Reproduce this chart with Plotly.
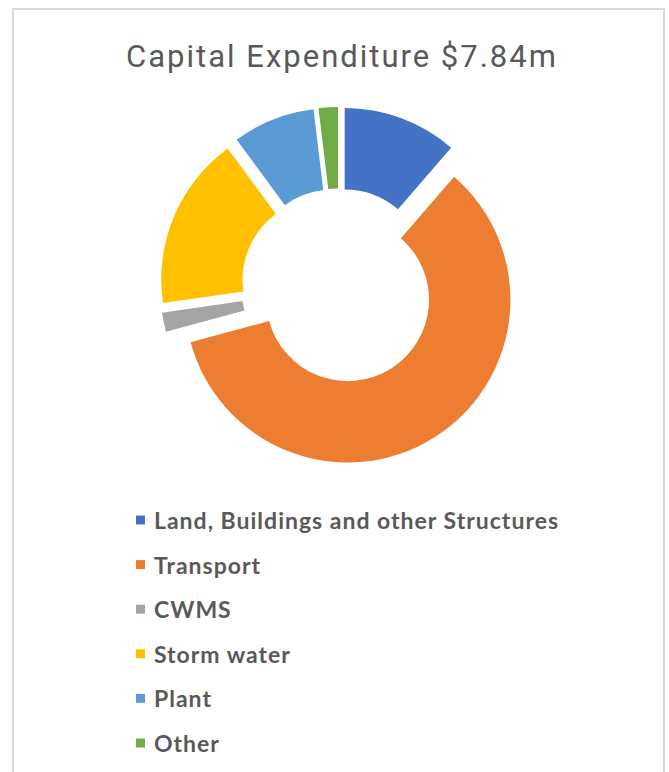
import plotly.graph_objects as go

W, H = 669, 772

title_text = "Capital Expenditure $7.84m"
categories = ["Land, Buildings and other Structures", "Transport", "CWMS",
              "Storm water", "Plant", "Other"]
values_m = [0.89, 4.66, 0.15, 1.35, 0.64, 0.15]
colors = ["#4472C4", "#ED7D31", "#A5A5A5", "#FFC000", "#5B9BD5", "#70AD47"]


def px_x(x):
    return x / W


def px_y(y):
    return 1 - y / H


fig = go.Figure()
fig.add_trace(go.Pie(
    labels=categories,
    values=values_m,
    marker=dict(colors=colors, line=dict(width=0)),
    hole=0.5,
    sort=False,
    direction="clockwise",
    rotation=0,
    pull=[0.1] * len(values_m),
    textinfo="none",
    hoverinfo="label+value",
    showlegend=False,
    domain=dict(x=[px_x(160), px_x(518)], y=[px_y(465), px_y(107)]),
))

# legend drawn from the category / colour lists
legend_top = 520
legend_step = 44.6
shapes = [dict(type="rect", xref="paper", yref="paper",
               x0=px_x(13), x1=px_x(664), y0=px_y(9), y1=-0.1,
               line=dict(color="#D9D9D9", width=2), fillcolor="rgba(0,0,0,0)")]
annotations = []
for i, (lab, col) in enumerate(zip(categories, colors)):
    yc = legend_top + i * legend_step
    shapes.append(dict(type="rect", xref="paper", yref="paper",
                       x0=px_x(136), x1=px_x(145), y0=px_y(yc - 4.5), y1=px_y(yc + 4.5),
                       line=dict(width=0), fillcolor=col))
    annotations.append(dict(text='<span style="letter-spacing:1px">' + lab + '</span>',
                            xref="paper", yref="paper",
                            x=px_x(152), y=px_y(yc), xanchor="left", yanchor="middle",
                            showarrow=False,
                            font=dict(family="Lato", size=23, color="#595959", weight="bold")))

fig.update_layout(
    width=W, height=H,
    margin=dict(l=0, r=0, t=0, b=0),
    paper_bgcolor="white",
    title=dict(text='<span style="letter-spacing:2px">' + title_text + '</span>',
               x=px_x(342), xanchor="center", y=px_y(56), yanchor="middle",
               font=dict(family="Roboto, sans-serif", size=31, color="#595959")),
    shapes=shapes,
    annotations=annotations,
)

fig.write_html("out.html")
